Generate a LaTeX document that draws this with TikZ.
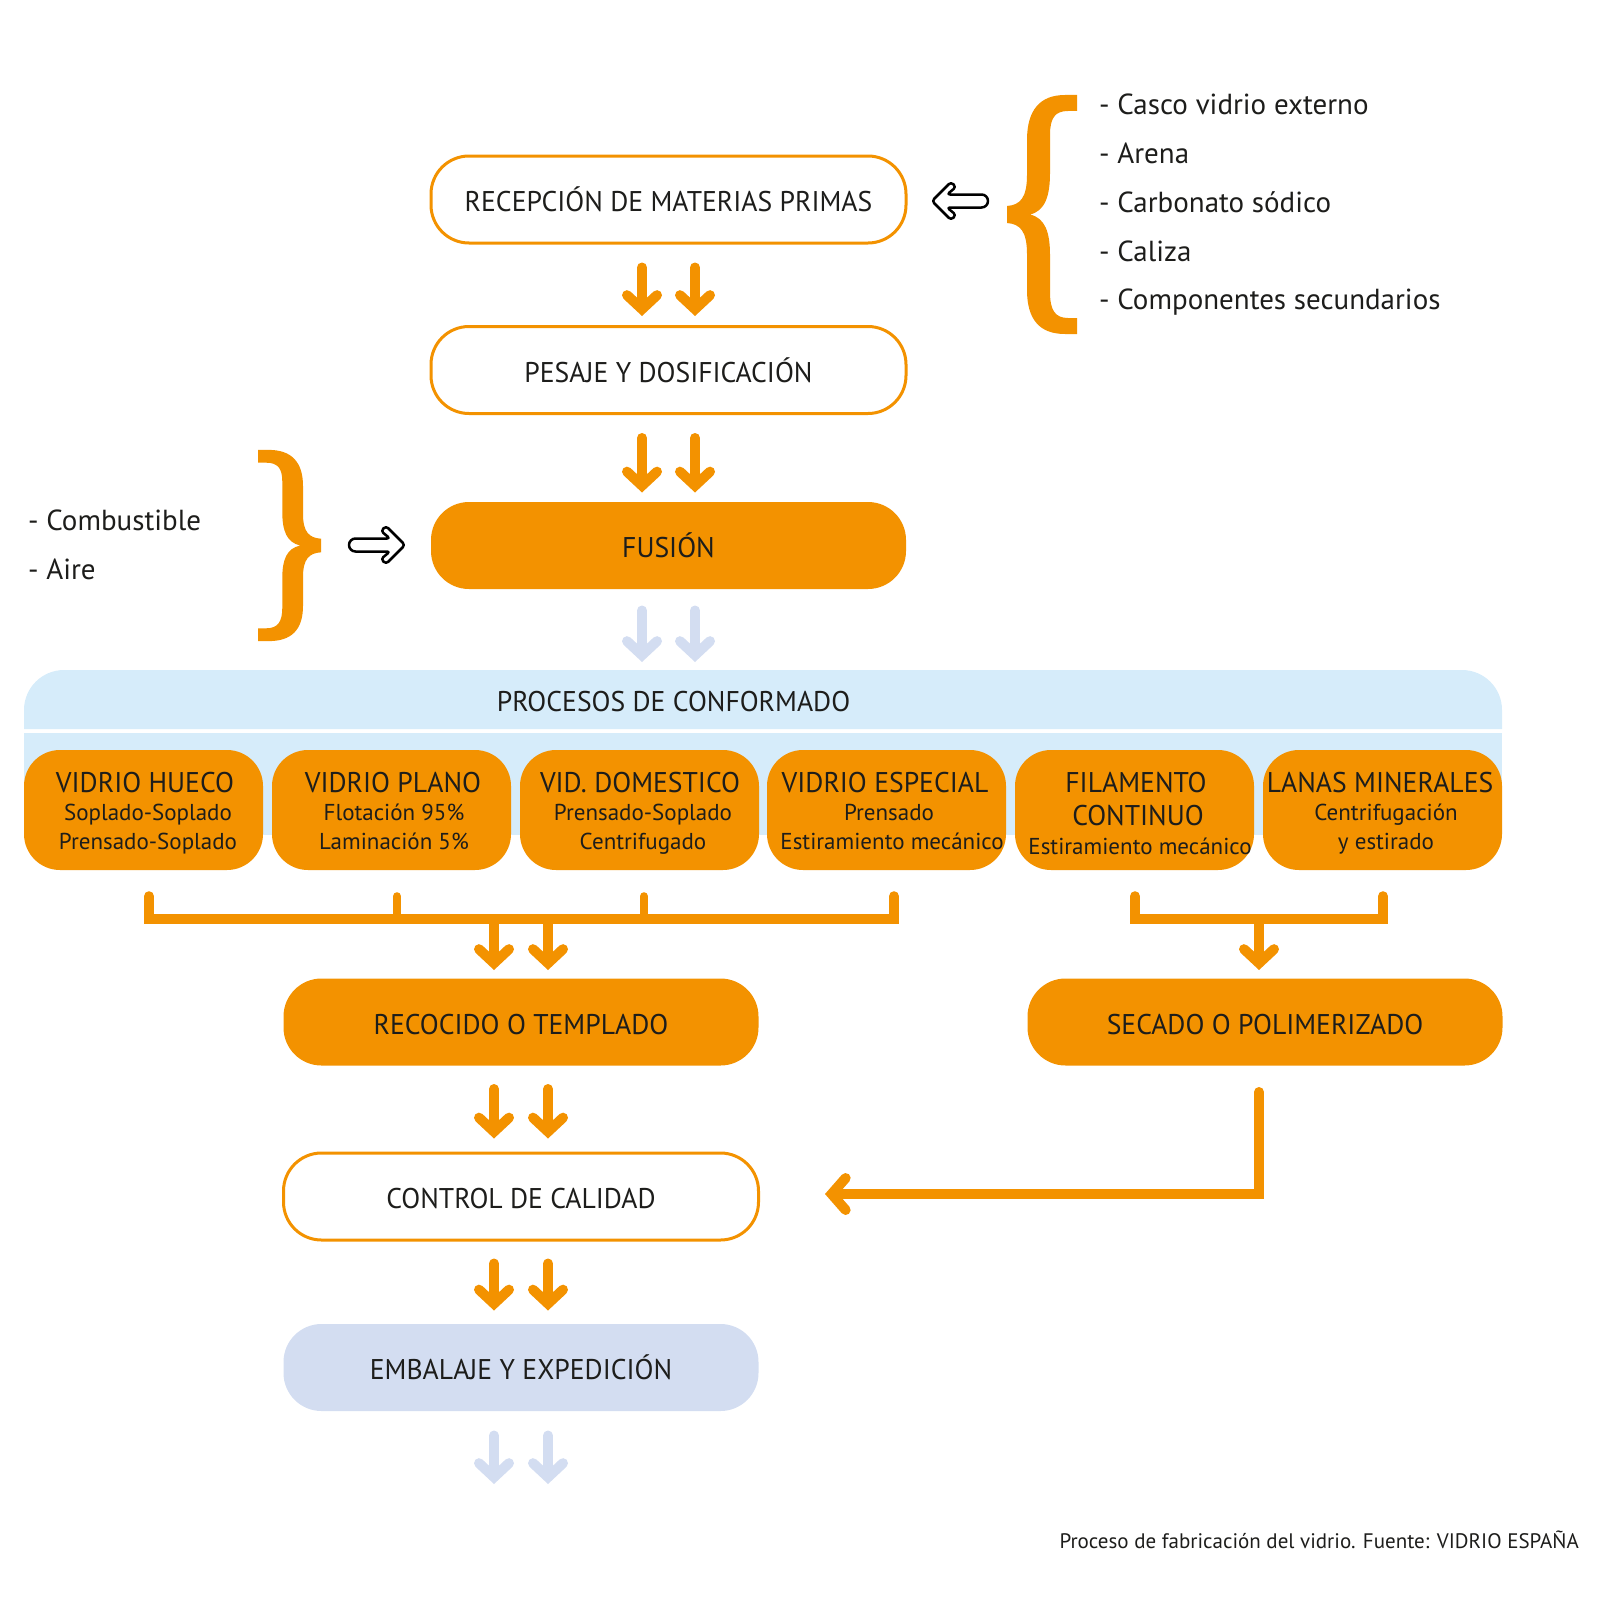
\documentclass[tikz,border=0pt]{standalone}
\usepackage{fontspec}
\setmainfont{PT Sans}
\newfontfamily\fboxfont[FakeStretch=0.97]{PT Sans}
\newfontfamily\ftitlefont[FakeStretch=0.97]{PT Sans}
\newfontfamily\fsubfont{PT Sans}
\newfontfamily\flistfont{PT Sans}
\newfontfamily\fcapfont{PT Sans}
\usetikzlibrary{arrows.meta}
\definecolor{vorange}{RGB}{243,146,0}
\definecolor{vband}{RGB}{214,236,250}
\definecolor{vlav}{RGB}{211,221,241}
\definecolor{vtext}{RGB}{29,29,27}
\tikzset{
  box/.style={rectangle, rounded corners=38pt, minimum width=475pt, minimum height=87pt,
    inner sep=0pt, line width=3pt, text=vtext, font=\fboxfont\fontsize{28.5}{30}\selectfont,
    text height=24pt, text depth=0pt},
  openbox/.style={box, draw=vorange, fill=white},
  fullbox/.style={box, fill=vorange},
  embbox/.style={box, fill=vlav},
  subbox/.style={rectangle, rounded corners=36pt, minimum width=239pt, minimum height=120pt,
    fill=vorange, inner sep=0pt},
  ttl/.style={anchor=base, inner sep=0pt, text=vtext, font=\ftitlefont\fontsize{28.5}{30}\selectfont},
  sub/.style={anchor=base, inner sep=0pt, text=vtext, font=\fsubfont\fontsize{23}{25}\selectfont},
  lst/.style={anchor=base west, inner sep=0pt, text=vtext, font=\flistfont\fontsize{29}{30}\selectfont},
  darr/.style={draw=vorange, line width=10pt, line cap=round,
    -{Straight Barb[length=14pt,width=30pt,line cap=round,line join=miter]}},
  larr/.style={darr, draw=vlav},
  conn/.style={draw=vorange, line width=10pt, line cap=round, line join=miter,
    -{Straight Barb[length=14pt,width=32pt,line cap=round,line join=miter]}},
  barline/.style={draw=vorange, line width=10pt, line cap=round, line join=miter},
  tickline/.style={draw=vorange, line width=8pt, line cap=round},
  brace/.style={fill=vorange},
  hollow/.style={draw=black, line width=2.5pt, fill=white, line join=round}
}
\begin{document}
\begin{tikzpicture}[x=1pt,y=-1pt]
\useasboundingbox (0,0) rectangle (1600,1600);

% main boxes
\node[openbox] (rec) at (668.5,199.5) {RECEPCIÓN DE MATERIAS PRIMAS};
\node[openbox] (pes) at (668.5,370) {PESAJE Y DOSIFICACIÓN};
\node[fullbox] (fus) at (668.5,545.5) {FUSIÓN};

% double arrows
\foreach \dx in {-26.5,26.5}{
  \draw[darr] ([xshift=\dx pt,yshift=-23pt]rec.south) -- ([xshift=\dx pt,yshift=9pt]pes.north);
  \draw[darr] ([xshift=\dx pt,yshift=-23pt]pes.south) -- ([xshift=\dx pt,yshift=8pt]fus.north);
}

% conformado band
\fill[vband] (24,729) [rounded corners=40pt] -- (24,670) -- (1502,670) [sharp corners] -- (1502,729) -- cycle;
\fill[vband] (24,733) rectangle (1502,835);
\node[anchor=base, inner sep=0pt, text=vtext, font=\fboxfont\fontsize{28.5}{30}\selectfont] (proc) at (673.5,711) {PROCESOS DE CONFORMADO};
\coordinate (bandtop) at (668.5,670);
\foreach \dx in {-26.5,26.5}{
  \draw[larr] ([xshift=\dx pt,yshift=-20pt]fus.south) -- ([xshift=\dx pt,yshift=8pt]bandtop);
}

% sub boxes
\node[subbox] (vh) at (143.5,810) {};
\node[subbox] (vp) at (391.5,810) {};
\node[subbox] (vd) at (639.5,810) {};
\node[subbox] (ve) at (886.5,810) {};
\node[subbox] (fc) at (1134.5,810) {};
\node[subbox] (lm) at (1382.5,810) {};

\node[ttl] (vh1) at (145,792) {VIDRIO HUECO};
\node[sub] (vh2) at (148,820) {Soplado-Soplado};
\node[sub] (vh3) at (148,849) {Prensado-Soplado};

\node[ttl] (vp1) at (393,792) {VIDRIO PLANO};
\node[sub] (vp2) at (394,820) {Flotación 95\%};
\node[sub] (vp3) at (394,849) {Laminación 5\%};

\node[ttl] (vd1) at (640,792) {VID. DOMESTICO};
\node[sub] (vd2) at (643,820) {Prensado-Soplado};
\node[sub] (vd3) at (643,849) {Centrifugado};

\node[ttl] (ve1) at (885,792) {VIDRIO ESPECIAL};
\node[sub] (ve2) at (889,820) {Prensado};
\node[sub] (ve3) at (892,849) {Estiramiento mecánico};

\node[ttl] (fc1) at (1136,792) {FILAMENTO};
\node[ttl] (fc2) at (1138,825) {CONTINUO};
\node[sub] (fc3) at (1140,854) {Estiramiento mecánico};

\node[ttl] (lm1) at (1380,792) {LANAS MINERALES};
\node[sub] (lm2) at (1386,820) {Centrifugación};
\node[sub] (lm3) at (1386,849) {y estirado};

% lower boxes
\node[fullbox] (rco) at (521,1022) {RECOCIDO O TEMPLADO};
\node[fullbox] (sec) at (1265,1022) {SECADO O POLIMERIZADO};
\node[openbox] (ctl) at (521,1196.5) {CONTROL DE CALIDAD};
\node[embbox] (emb) at (521,1367.5) {EMBALAJE Y EXPEDICIÓN};

% left bracket
\draw[barline] ([xshift=5.5pt,yshift=-26pt]vh.south) -- ++(0,23) -| ([xshift=7.5pt,yshift=-26pt]ve.south);
\draw[tickline] ([xshift=5.5pt,yshift=-26pt]vp.south) -- ++(0,20);
\draw[tickline] ([xshift=4.5pt,yshift=-26pt]vd.south) -- ++(0,20);
\coordinate (jl) at (521,919);
\foreach \dx in {-27,27}{
  \draw[darr] ([xshift=\dx pt,yshift=-2pt]jl) -- ([xshift=\dx pt,yshift=7pt]rco.north);
}
% right bracket
\draw[barline] ([xshift=0.5pt,yshift=-26pt]fc.south) -- ++(0,23) -| ([xshift=0.5pt,yshift=-26pt]lm.south);
\coordinate (jr) at (1259,919);
\draw[darr] ([yshift=-2pt]jr) -- ([xshift=-6pt,yshift=7pt]sec.north);

% arrows below
\foreach \dx in {-27,27}{
  \draw[darr] ([xshift=\dx pt,yshift=-22pt]rco.south) -- ([xshift=\dx pt,yshift=13pt]ctl.north);
  \draw[darr] ([xshift=\dx pt,yshift=-22pt]ctl.south) -- ([xshift=\dx pt,yshift=12pt]emb.north);
}
\coordinate (endarr) at (521,1484);
\foreach \dx in {-27,27}{
  \draw[larr] ([xshift=\dx pt,yshift=-23pt]emb.south) -- ([xshift=\dx pt]endarr);
}

% secado -> control
\draw[conn] ([xshift=-6pt,yshift=-25pt]sec.south) |- ([xshift=65pt,yshift=2.5pt]ctl.east);

% right brace and list
\begin{scope}[shift={(1007,214.5)}]
\fill[brace] (70,-119.5) -- (58,-119.5) .. controls (33,-119.5) and (20,-104.5) .. (20,-74.5) -- (20,-39.5)
  .. controls (20,-16.5) and (13,-9.5) .. (0,-8.5) -- (0,8.5) .. controls (13,9.5) and (20,16.5) .. (20,39.5)
  -- (20,75.5) .. controls (20,105.5) and (33,119.5) .. (58,119.5) -- (70,119.5) -- (70,103.5) -- (61,103.5)
  .. controls (48,103.5) and (43,95.5) .. (43,77.5) -- (43,40.5) .. controls (43,17.5) and (38,3.5) .. (23,0)
  .. controls (38,-3.5) and (43,-18.5) .. (43,-41.5) -- (43,-79.5) .. controls (43,-96.5) and (48,-103.5) .. (61,-103.5)
  -- (70,-103.5) -- cycle;
\end{scope}
\node[lst] (m1) at (1099,114) {- Casco vidrio externo};
\node[lst] (m2) at (1099,163) {- Arena};
\node[lst] (m3) at (1099,212) {- Carbonato sódico};
\node[lst] (m4) at (1099,261) {- Caliza};
\node[lst] (m5) at (1099,309) {- Componentes secundarios};

% hollow arrow to recepcion
\begin{scope}[shift={(932,201)}, xscale=-1]
\draw[hollow] [rounded corners=3pt] (0,0) -- (-19,-19) -- (-24,-14) -- (-15,-6.5) [rounded corners=6.5pt] -- (-56,-6.5) -- (-56,6.5) [rounded corners=3pt] -- (-15,6.5) -- (-24,14) -- (-19,19) -- cycle;
\end{scope}

% left brace and list
\begin{scope}[shift={(321,545.5)}, xscale=-0.9, yscale=0.8]
\fill[brace] (70,-119.5) -- (58,-119.5) .. controls (33,-119.5) and (20,-104.5) .. (20,-74.5) -- (20,-39.5)
  .. controls (20,-16.5) and (13,-9.5) .. (0,-8.5) -- (0,8.5) .. controls (13,9.5) and (20,16.5) .. (20,39.5)
  -- (20,75.5) .. controls (20,105.5) and (33,119.5) .. (58,119.5) -- (70,119.5) -- (70,103.5) -- (61,103.5)
  .. controls (48,103.5) and (43,95.5) .. (43,77.5) -- (43,40.5) .. controls (43,17.5) and (38,3.5) .. (23,0)
  .. controls (38,-3.5) and (43,-18.5) .. (43,-41.5) -- (43,-79.5) .. controls (43,-96.5) and (48,-103.5) .. (61,-103.5)
  -- (70,-103.5) -- cycle;
\end{scope}
\node[lst] (c1) at (28,530) {- Combustible};
\node[lst] (c2) at (28,579) {- Aire};
\begin{scope}[shift={(405,545)}]
\draw[hollow] [rounded corners=3pt] (0,0) -- (-19,-19) -- (-24,-14) -- (-15,-6.5) [rounded corners=6.5pt] -- (-56,-6.5) -- (-56,6.5) [rounded corners=3pt] -- (-15,6.5) -- (-24,14) -- (-19,19) -- cycle;
\end{scope}

% caption
\node[anchor=base east, inner sep=0pt, text=vtext, font=\fcapfont\fontsize{21}{23}\selectfont] (cap) at (1579,1548) {Proceso de fabricación del vidrio. Fuente: VIDRIO ESPAÑA};
\end{tikzpicture}
\end{document}
